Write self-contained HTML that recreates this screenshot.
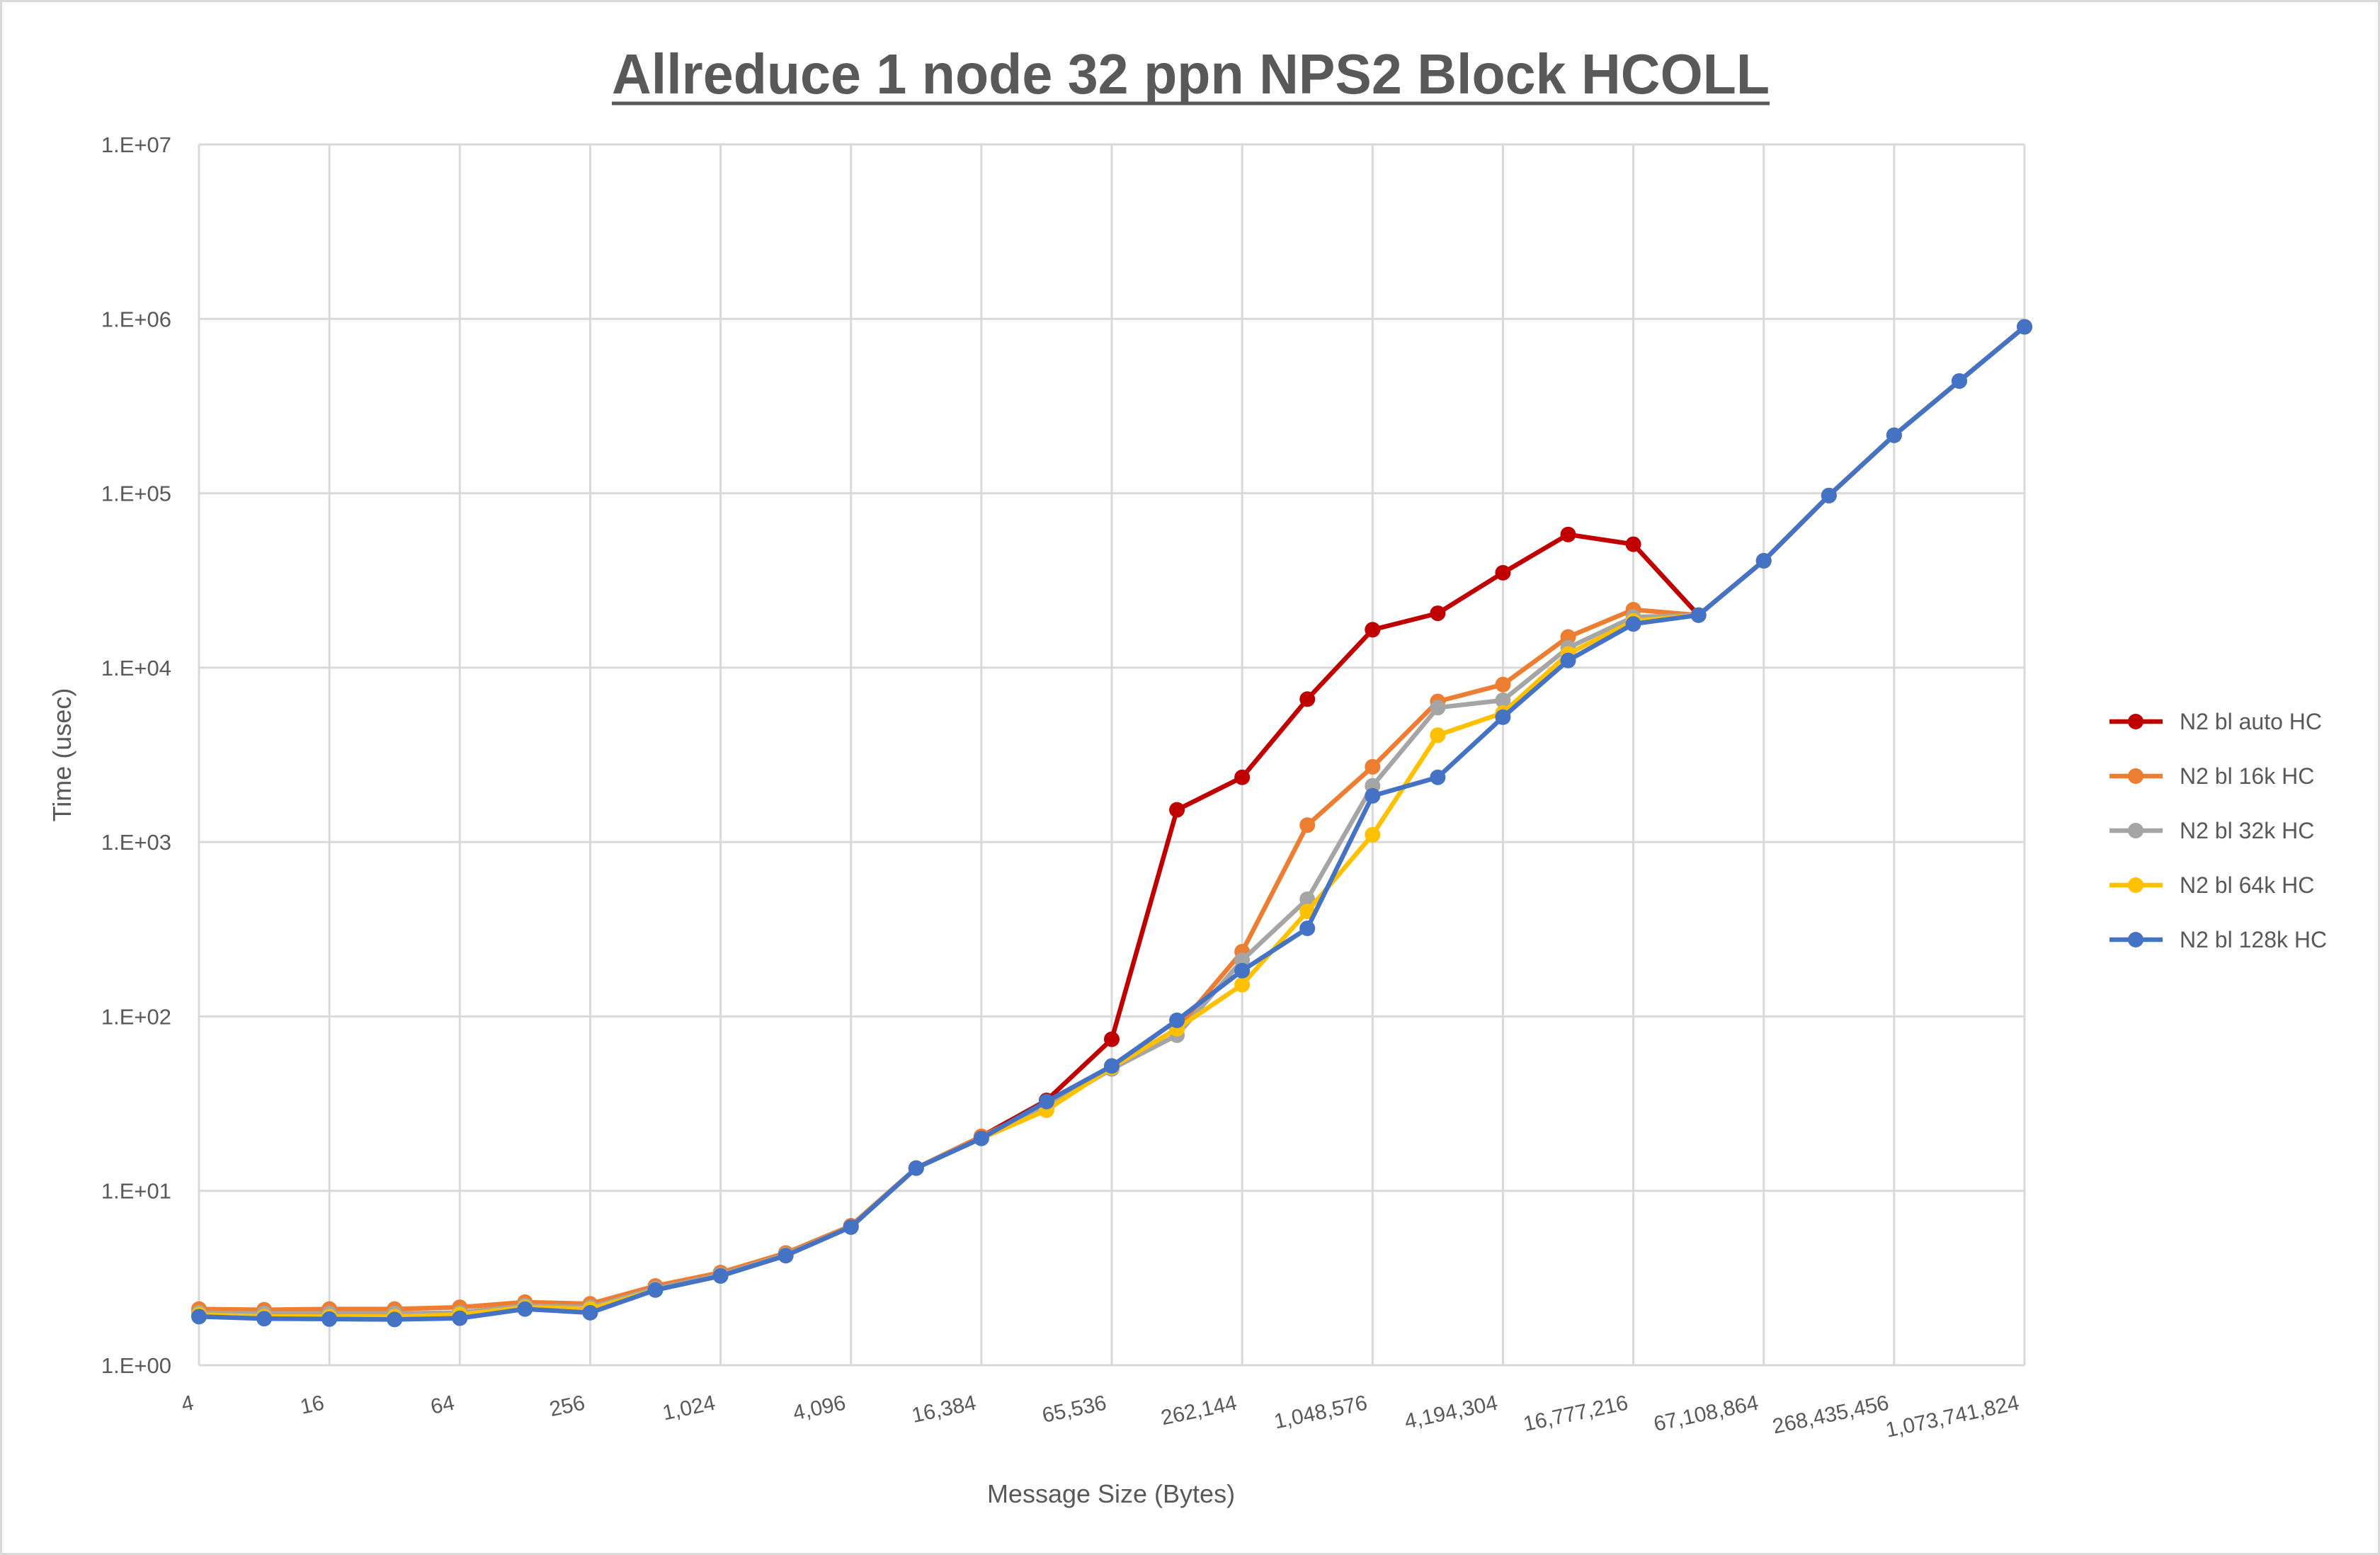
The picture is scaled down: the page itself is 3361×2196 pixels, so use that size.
<!DOCTYPE html>
<html><head><meta charset="utf-8"><style>
html,body{margin:0;padding:0;background:#fff;}
svg{display:block;font-family:"Liberation Sans",Calibri,sans-serif;}
</style></head><body>
<svg id="chart" width="3361" height="2196" viewBox="0 0 3361 2196" xmlns="http://www.w3.org/2000/svg">
<rect x="1.5" y="1.5" width="3358" height="2193" fill="#fff" stroke="#d9d9d9" stroke-width="3"/>
<text x="864" y="132" textLength="1635" lengthAdjust="spacingAndGlyphs" font-size="80" font-weight="bold" fill="#595959">Allreduce 1 node 32 ppn NPS2 Block HCOLL</text>
<line x1="864" y1="146" x2="2499" y2="146" stroke="#595959" stroke-width="5"/>
<g id="grid"></g>
<g id="yticks"></g>
<g id="xticks"></g>
<g id="series"></g>
<g id="legend"></g>
<text x="1569" y="2122" text-anchor="middle" font-size="36" fill="#595959">Message Size (Bytes)</text>
<text transform="translate(100,1066) rotate(-90)" text-anchor="middle" font-size="36" fill="#595959">Time (usec)</text>
</svg>
<script>
const categories = [4,8,16,32,64,128,256,512,1024,2048,4096,8192,16384,32768,65536,131072,262144,524288,1048576,2097152,4194304,8388608,16777216,33554432,67108864,134217728,268435456,536870912,1073741824];
const xTickLabels = ["4","16","64","256","1,024","4,096","16,384","65,536","262,144","1,048,576","4,194,304","16,777,216","67,108,864","268,435,456","1,073,741,824"];
const yTickLabels = ["1.E+00","1.E+01","1.E+02","1.E+03","1.E+04","1.E+05","1.E+06","1.E+07"];
const seriesNames = ["N2 bl auto HC","N2 bl 16k HC","N2 bl 32k HC","N2 bl 64k HC","N2 bl 128k HC"];
const seriesColors = ["#c00000","#ed7d31","#a5a5a5","#ffc000","#4472c4"];
const autoHC = [2.0,1.95,1.95,1.95,2.0,2.2,2.1,2.8,3.3,4.3,6.3,13.5,20.5,33,74,1530,2350,6600,16500,20500,35000,58000,51000,20000,41000,97000,215000,440000,900000];
const hc16k = [2.1,2.08,2.1,2.1,2.15,2.3,2.25,2.85,3.4,4.4,6.3,13.5,20.5,31,51,85,235,1250,2700,6400,8000,15000,21500,20000,41000,97000,215000,440000,900000];
const hc32k = [2.0,1.98,1.98,1.98,2.0,2.2,2.15,2.75,3.3,4.3,6.2,13.5,20,30,50,78,210,470,2100,5900,6500,13000,19500,20000,41000,97000,215000,440000,900000];
const hc64k = [1.95,1.9,1.9,1.9,1.95,2.15,2.1,2.7,3.25,4.25,6.2,13.5,20,29,51,85,152,400,1100,4100,5500,12000,18500,20000,41000,97000,215000,440000,900000];
const hc128k = [1.9,1.85,1.84,1.83,1.86,2.1,2.0,2.7,3.25,4.25,6.2,13.5,20,32.5,52,95,183,320,1840,2350,5200,11000,17800,20000,41000,97000,215000,440000,900000];
const seriesData = [autoHC,hc16k,hc32k,hc64k,hc128k];

const NS="http://www.w3.org/2000/svg";
const X0=281,X1=2859,Y0=1928,Y1=204;
function xPos(i){return X0+(X1-X0)*i/(categories.length-1);}
function yPos(v){return Y0-(Y0-Y1)*Math.log10(v)/7;}
function mk(tag,attrs,parent){const e=document.createElementNS(NS,tag);for(const k in attrs)e.setAttribute(k,attrs[k]);parent.appendChild(e);return e;}

const grid=document.getElementById('grid');
for(let d=0;d<=7;d++){
  const l=mk('line',{x1:X0,x2:X1,y1:yPos(Math.pow(10,d)),y2:yPos(Math.pow(10,d)),stroke:'#d9d9d9','stroke-width':3},grid);
  
  
}
for(let i=0;i<categories.length;i+=2){
  const l=mk('line',{x1:xPos(i),x2:xPos(i),y1:Y1,y2:Y0,stroke:'#d9d9d9','stroke-width':3},grid);
  
  
}
const yt=document.getElementById('yticks');
yTickLabels.forEach((t,d)=>{
  const e=mk('text',{x:242,y:yPos(Math.pow(10,d))+11,'text-anchor':'end','font-size':31,fill:'#595959'},yt);
  e.textContent=t;
  
  
});
const xt=document.getElementById('xticks');
xTickLabels.forEach((t,j)=>{
  const x=xPos(j*2)-6,y=Y0+62;
  const e=mk('text',{x:x,y:y,'text-anchor':'end','font-size':30,fill:'#595959',transform:`rotate(-12 ${x} ${y})`},xt);
  e.textContent=t;
  
  
});
const sg=document.getElementById('series');
seriesData.forEach((vals,s)=>{
  const g=mk('g',{},sg);
  
  
  const pts=vals.map((v,i)=>xPos(i).toFixed(1)+','+yPos(v).toFixed(1)).join(' ');
  const pl=mk('polyline',{points:pts,fill:'none',stroke:seriesColors[s],'stroke-width':6.5,'stroke-linejoin':'round'},g);
  
  
  vals.forEach((v,i)=>{
    const c=mk('circle',{cx:xPos(i),cy:yPos(v),r:11,fill:seriesColors[s]},g);
    
    
  });
});
const lg=document.getElementById('legend');
const ly=[1019,1096,1173,1250,1327];
seriesNames.forEach((n,s)=>{
  const g=mk('g',{},lg);
  
  
  mk('line',{x1:2979,x2:3054,y1:ly[s],y2:ly[s],stroke:seriesColors[s],'stroke-width':6.5},g);
  mk('circle',{cx:3016,cy:ly[s],r:11,fill:seriesColors[s]},g);
  const t=mk('text',{x:3078,y:ly[s]+11,'font-size':32,fill:'#595959'},g);
  t.textContent=n;
});
</script>
</body></html>
